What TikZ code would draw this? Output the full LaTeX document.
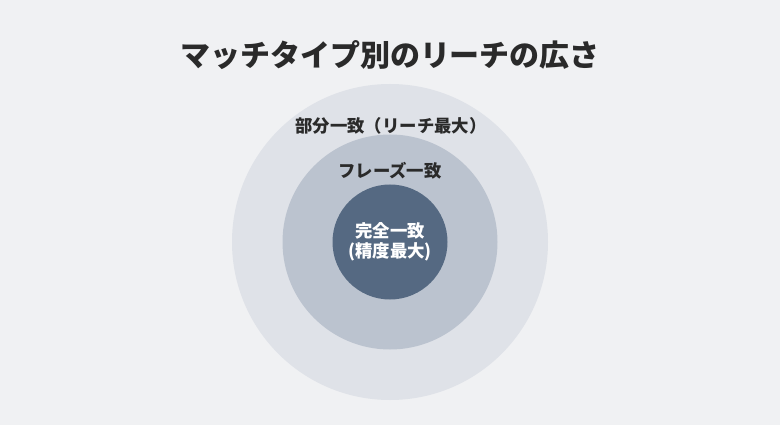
\documentclass[tikz,border=0pt]{standalone}
\usepackage{fontspec}
\newfontfamily\cjk{Noto Sans CJK JP}
\definecolor{bg}{HTML}{F0F1F3}
\definecolor{outerc}{HTML}{DFE2E8}
\definecolor{midc}{HTML}{BBC3CF}
\definecolor{innerc}{HTML}{556982}
\definecolor{txt}{HTML}{2A2A2A}
\tikzset{
  ring/.style={circle, draw=none, inner sep=0pt},
  lbl/.style={font=\cjk\bfseries\fontsize{17.4}{21}\selectfont, text=txt, inner sep=0pt},
}
\begin{document}
\begin{tikzpicture}[x=1pt,y=-1pt]
\fill[bg] (0,0) rectangle (780,425);
\useasboundingbox (0,0) rectangle (780,425);
\node[ring, fill=outerc, minimum size=316pt] (outer) at (390,242) {};
\node[ring, fill=midc, minimum size=215pt] (mid) at (390,242) {};
\node[ring, fill=innerc, minimum size=115pt] (inner) at (390,242) {};
\node[font=\cjk\bfseries\fontsize{30}{36}\selectfont, text=txt, inner sep=0pt] (title) at (390,55) {マッチタイプ別のリーチの広さ};
\node[lbl] (l1) at (391,126) {部分一致（リーチ最大）};
\node[lbl] (l2) at (390,171) {フレーズ一致};
\node[lbl, text=white, align=center, font=\cjk\bfseries\fontsize{17.4}{20}\selectfont] (l3) at (390,242) {完全一致\\(精度最大)};
\end{tikzpicture}
\end{document}
